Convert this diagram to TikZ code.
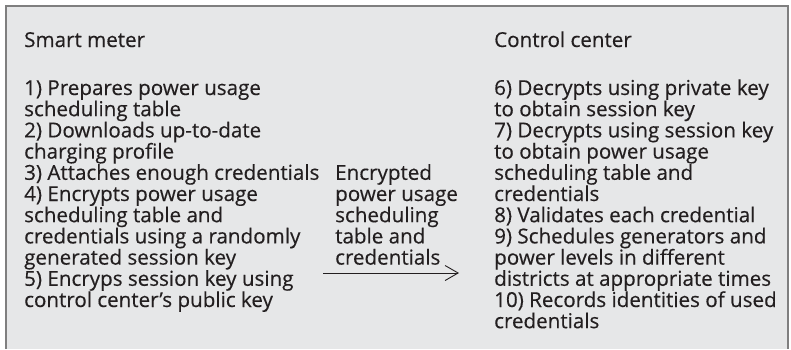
\documentclass[tikz,border=0pt]{standalone}
\usepackage{fontspec}
\setmainfont{Open Sans}[FakeBold=0.35]
\usetikzlibrary{arrows.meta}
\definecolor{bgray}{HTML}{E6E7E8}
\definecolor{frame}{HTML}{7F7F7F}
\definecolor{ink}{HTML}{231F20}
\tikzset{
  txt/.style={anchor=base west, inner sep=0pt, text=ink, font=\fontsize{20.6}{21}\selectfont},
  flow/.style={draw=ink, line width=0.9pt, -{Straight Barb[length=13pt,width=15pt,line width=0.9pt]}}
}
\begin{document}
\begin{tikzpicture}[x=1pt,y=-1pt]
\useasboundingbox (0,0) rectangle (791,349);
\fill[bgray] (6,6) rectangle (788,349);
\draw[frame, line width=1.6pt] (6,349) -- (6,6) -- (788,6) -- (788,349);
\node[txt] (smh) at (24,47) {Smart meter};
\node[txt] (cch) at (494,47) {Control center};
\foreach \t [count=\i] in {
  {1) Prepares power usage},
  {scheduling table},
  {2) Downloads up-to-date},
  {charging profile},
  {3) Attaches enough credentials},
  {4) Encrypts power usage},
  {scheduling table and},
  {credentials using a randomly},
  {generated session key},
  {5) Encryps session key using},
  {control center’s public key}}
  \node[txt] (sm\i) at (24,{95+21.2*(\i-1)}) {\t};
\foreach \t [count=\i] in {
  {6) Decrypts using private key},
  {to obtain session key},
  {7) Decrypts using session key},
  {to obtain power usage},
  {scheduling table and},
  {credentials},
  {8) Validates each credential},
  {9) Schedules generators and},
  {power levels in different},
  {districts at appropriate times},
  {10) Records identities of used},
  {credentials}}
  \node[txt] (cc\i) at (494,{95+21.2*(\i-1)}) {\t};
\foreach \t [count=\i] in {
  {Encrypted},
  {power usage},
  {scheduling},
  {table and},
  {credentials}}
  \node[txt] (m\i) at (335,{179.8+21.2*(\i-1)}) {\t};
\coordinate (as) at (323,273);
\coordinate (ae) at (459,273);
\draw[flow] (as) -- (ae);
\end{tikzpicture}
\end{document}
